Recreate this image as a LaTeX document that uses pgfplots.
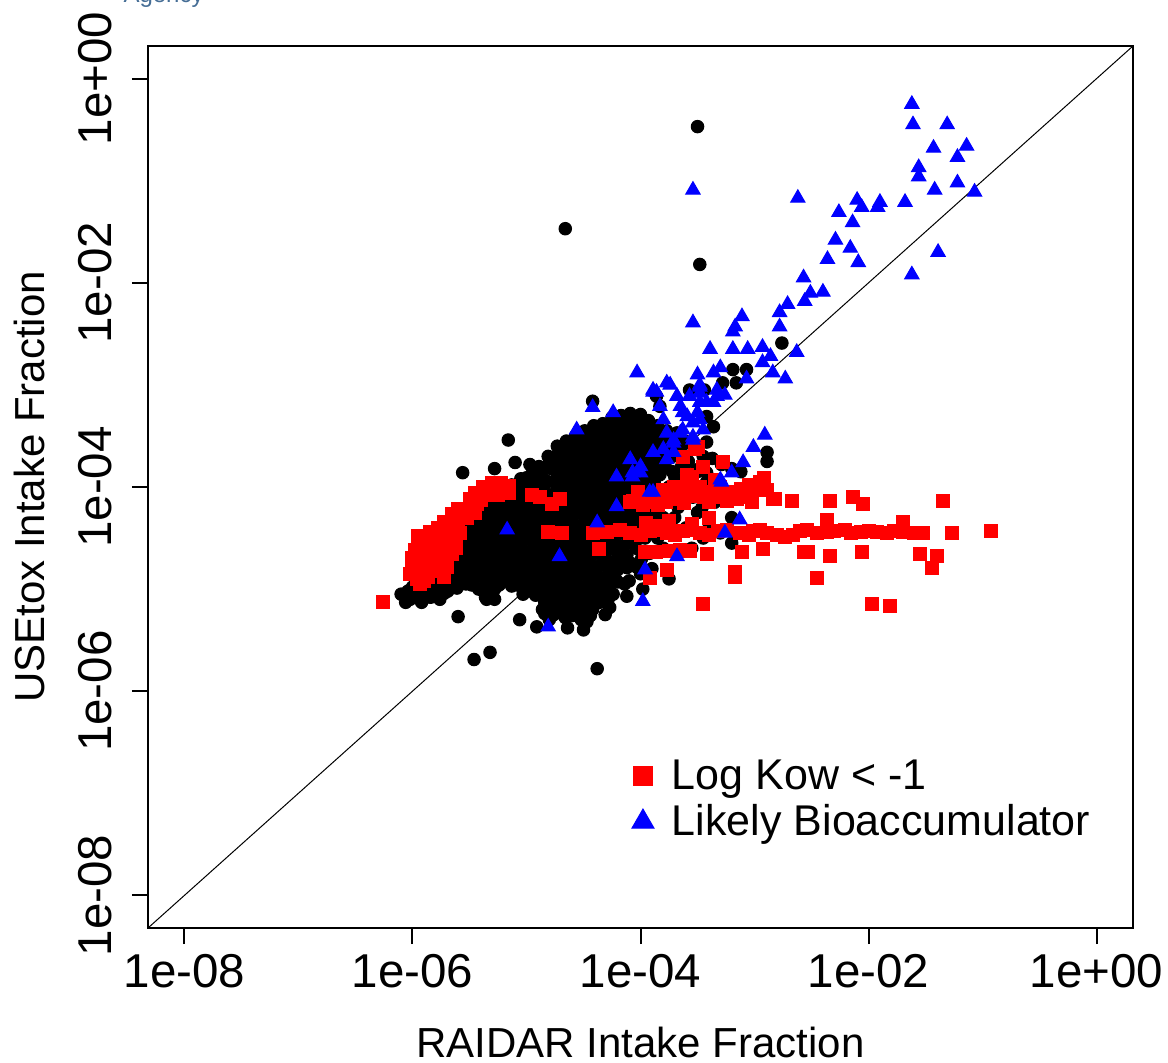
\documentclass[border=0pt]{standalone}
\usepackage{pgfplots}
\pgfplotsset{compat=1.18}
\usepackage{fontspec}
\setmainfont{Liberation Sans}
\definecolor{agency}{RGB}{70,110,150}
\begin{document}
\begin{tikzpicture}
\useasboundingbox (-59.2pt,-53.6pt) rectangle (408pt,371.2pt);
\begin{axis}[
 scale only axis, width=394pt, height=352.8pt,
 xmin=-8.32, xmax=0.32, ymin=-8.32, ymax=0.32,
 xtick={-8,-6,-4,-2,0}, ytick={-8,-6,-4,-2,0},
 xticklabels={1e-08,1e-06,1e-04,1e-02,1e+00},
 yticklabels={1e-08,1e-06,1e-04,1e-02,1e+00},
 tick pos=left, tick align=outside, major tick length=6.4pt,
 axis line style={line width=0.8pt},
 every tick/.style={black, line width=0.8pt},
 tick label style={font=\fontsize{19}{22}\selectfont},
 xticklabel style={anchor=base},
 yticklabel style={rotate=90, anchor=base},
 xticklabel shift=17.2pt, yticklabel shift=8pt,
 xlabel={RAIDAR Intake Fraction}, ylabel={USEtox Intake Fraction},
 every axis x label/.style={at={(axis description cs:0.5,-0.14626)}, anchor=base, font=\fontsize{16.8}{18}\selectfont, inner sep=0pt},
 every axis y label/.style={at={(axis description cs:-0.10457,0.5)}, anchor=base, rotate=90, font=\fontsize{16.8}{18}\selectfont, inner sep=0pt},
 legend style={draw=none, fill=none, inner sep=0pt, outer sep=0pt, at={(axis cs:-4.11,-6.67)}, anchor=north west, font=\fontsize{17.2}{19}\selectfont, row sep=4.6pt, nodes={inner sep=0pt}, /tikz/every odd column/.style={column sep=5.6pt}},
 legend cell align=left,
 legend image code/.code={\path[draw=none, fill=none] (-6pt,-3pt) rectangle (6pt,3pt); \draw[#1] plot coordinates {(0pt,0pt)};},
]
\addplot[black, line width=0.4pt, forget plot] coordinates {(-8.32,-8.32) (0.32,0.32)};
% black: other chemicals
\addplot[only marks, mark=*, mark size=2.5pt, black, forget plot] coordinates {
(-6.10,-5.05) (-6.06,-5.13) (-6.00,-4.98) (-6.02,-5.10) (-5.97,-5.04)
(-5.93,-4.93) (-5.90,-5.05) (-5.92,-5.13) (-5.85,-4.86) (-5.82,-4.97) (-5.84,-5.08)
(-5.77,-4.62) (-5.74,-4.76) (-5.78,-4.88) (-5.75,-5.00) (-5.76,-5.10)
(-5.69,-4.45) (-5.67,-4.56) (-5.70,-4.68) (-5.66,-4.80) (-5.68,-4.91) (-5.69,-5.02)
(-5.61,-4.40) (-5.58,-4.52) (-5.62,-4.65) (-5.59,-4.78) (-5.60,-4.90) (-5.61,-4.99)
(-5.53,-4.35) (-5.50,-4.48) (-5.54,-4.60) (-5.51,-4.72) (-5.52,-4.85) (-5.53,-4.95)
(-5.45,-4.25) (-5.42,-4.38) (-5.46,-4.50) (-5.43,-4.62) (-5.44,-4.75) (-5.45,-4.88) (-5.42,-5.00)
(-5.37,-4.20) (-5.34,-4.32) (-5.38,-4.45) (-5.35,-4.58) (-5.36,-4.70) (-5.37,-4.82) (-5.34,-4.95) (-5.36,-5.08)
(-5.29,-4.12) (-5.26,-4.25) (-5.30,-4.38) (-5.27,-4.50) (-5.28,-4.62) (-5.29,-4.75) (-5.26,-4.88) (-5.28,-5.00)
(-5.21,-4.05) (-5.18,-4.18) (-5.22,-4.30) (-5.19,-4.42) (-5.20,-4.55) (-5.21,-4.68) (-5.18,-4.80) (-5.20,-4.92)
(-5.13,-3.98) (-5.10,-4.10) (-5.14,-4.22) (-5.11,-4.35) (-5.12,-4.48) (-5.13,-4.60) (-5.10,-4.72) (-5.12,-4.85) (-5.13,-4.97)
(-5.05,-3.92) (-5.02,-4.05) (-5.06,-4.18) (-5.03,-4.30) (-5.04,-4.42) (-5.05,-4.55) (-5.02,-4.68) (-5.04,-4.80) (-5.05,-4.92) (-5.03,-5.05)
(-4.97,-3.78) (-4.94,-3.90) (-4.98,-4.02) (-4.95,-4.15) (-4.96,-4.28) (-4.97,-4.40) (-4.94,-4.52) (-4.96,-4.65) (-4.97,-4.78) (-4.95,-4.90) (-4.96,-5.02)
(-4.89,-3.80) (-4.86,-3.92) (-4.90,-4.05) (-4.87,-4.18) (-4.88,-4.30) (-4.89,-4.42) (-4.86,-4.55) (-4.88,-4.68) (-4.89,-4.80) (-4.87,-4.92) (-4.88,-5.05) (-4.86,-5.20)
(-4.81,-3.70) (-4.78,-3.82) (-4.82,-3.95) (-4.79,-4.08) (-4.80,-4.20) (-4.81,-4.32) (-4.78,-4.45) (-4.80,-4.58) (-4.81,-4.70) (-4.79,-4.82) (-4.80,-4.95) (-4.81,-5.08) (-4.78,-5.20) (-4.80,-5.30)
(-4.73,-3.60) (-4.70,-3.72) (-4.74,-3.85) (-4.71,-3.98) (-4.72,-4.10) (-4.73,-4.22) (-4.70,-4.35) (-4.72,-4.48) (-4.73,-4.60) (-4.71,-4.72) (-4.72,-4.85) (-4.73,-4.98) (-4.70,-5.10) (-4.72,-5.22)
(-4.65,-3.55) (-4.62,-3.68) (-4.66,-3.80) (-4.63,-3.92) (-4.64,-4.05) (-4.65,-4.18) (-4.62,-4.30) (-4.64,-4.42) (-4.65,-4.55) (-4.63,-4.68) (-4.64,-4.80) (-4.65,-4.92) (-4.62,-5.05) (-4.64,-5.18) (-4.66,-5.28)
(-4.57,-3.50) (-4.54,-3.62) (-4.58,-3.75) (-4.55,-3.88) (-4.56,-4.00) (-4.57,-4.12) (-4.54,-4.25) (-4.56,-4.38) (-4.57,-4.50) (-4.55,-4.62) (-4.56,-4.75) (-4.57,-4.88) (-4.54,-5.00) (-4.56,-5.12) (-4.58,-5.25)
(-4.49,-3.45) (-4.46,-3.58) (-4.50,-3.70) (-4.47,-3.82) (-4.48,-3.95) (-4.49,-4.08) (-4.46,-4.20) (-4.48,-4.32) (-4.49,-4.45) (-4.47,-4.58) (-4.48,-4.70) (-4.49,-4.82) (-4.46,-4.95) (-4.48,-5.10) (-4.50,-5.22) (-4.47,-5.32)
(-4.41,-3.40) (-4.38,-3.52) (-4.42,-3.65) (-4.39,-3.78) (-4.40,-3.90) (-4.41,-4.02) (-4.38,-4.15) (-4.40,-4.28) (-4.41,-4.40) (-4.39,-4.52) (-4.40,-4.65) (-4.41,-4.78) (-4.38,-4.90) (-4.40,-5.05) (-4.42,-5.20)
(-4.33,-3.38) (-4.30,-3.50) (-4.34,-3.62) (-4.31,-3.75) (-4.32,-3.88) (-4.33,-4.00) (-4.30,-4.12) (-4.32,-4.25) (-4.33,-4.38) (-4.31,-4.50) (-4.32,-4.62) (-4.33,-4.75) (-4.30,-4.88) (-4.32,-5.00) (-4.34,-5.12) (-4.31,-5.25)
(-4.25,-3.32) (-4.22,-3.45) (-4.26,-3.58) (-4.23,-3.70) (-4.24,-3.82) (-4.25,-3.95) (-4.22,-4.08) (-4.24,-4.20) (-4.25,-4.32) (-4.23,-4.45) (-4.24,-4.60) (-4.25,-4.75) (-4.22,-4.90) (-4.24,-5.05)
(-4.17,-3.30) (-4.14,-3.42) (-4.18,-3.55) (-4.15,-3.68) (-4.16,-3.80) (-4.17,-3.92) (-4.14,-4.05) (-4.16,-4.18) (-4.17,-4.30) (-4.15,-4.45) (-4.16,-4.60) (-4.17,-4.78) (-4.14,-4.95)
(-4.09,-3.28) (-4.06,-3.40) (-4.10,-3.52) (-4.07,-3.65) (-4.08,-3.78) (-4.09,-3.90) (-4.06,-4.05) (-4.08,-4.20) (-4.09,-4.35) (-4.07,-4.55) (-4.08,-4.75) (-4.10,-4.92)
(-4.01,-3.30) (-3.98,-3.42) (-4.02,-3.55) (-3.99,-3.68) (-4.00,-3.80) (-4.01,-3.95) (-3.98,-4.10) (-4.00,-4.30) (-4.01,-4.50) (-3.99,-4.70) (-4.00,-4.85)
(-3.93,-3.35) (-3.90,-3.50) (-3.94,-3.62) (-3.91,-3.75) (-3.92,-3.90) (-3.93,-4.10) (-3.90,-4.40) (-3.92,-4.65)
(-3.85,-3.40) (-3.82,-3.55) (-3.86,-3.70) (-3.83,-3.88) (-3.84,-4.15) (-3.85,-4.50)
(-3.77,-3.45) (-3.74,-3.60) (-3.78,-3.75) (-3.75,-4.00) (-3.76,-4.35)
(-3.69,-3.50) (-3.66,-3.68) (-3.70,-3.90) (-3.67,-4.20)
(-3.61,-3.55) (-3.58,-3.75) (-3.62,-4.05) (-3.53,-3.62) (-3.50,-3.85) (-3.54,-4.10)
(-3.45,-3.70) (-3.42,-3.95) (-3.46,-4.20) (-3.37,-3.72) (-3.34,-4.00) (-3.29,-3.78) (-3.26,-4.05)
(-3.20,-3.82) (-3.12,-3.85)
(-3.70,-4.30) (-3.60,-4.40) (-3.50,-4.25) (-3.40,-4.35) (-3.30,-4.45) (-3.20,-4.30) (-3.45,-4.50)
(-3.35,-4.15) (-3.55,-4.60) (-3.90,-4.80) (-3.80,-4.60) (-3.98,-5.00) (-3.75,-4.90) (-3.20,-4.55) (-3.15,-4.45)
(-6.04,-5.02) (-6.04,-5.09) (-5.88,-4.96) (-5.88,-5.08) (-5.80,-4.76) (-5.80,-4.88) (-5.80,-5.00)
(-5.72,-4.56) (-5.72,-4.68) (-5.72,-4.80) (-5.72,-4.92) (-5.72,-5.04)
(-5.64,-4.48) (-5.64,-4.60) (-5.64,-4.72) (-5.64,-4.84) (-5.64,-4.96)
(-5.56,-4.44) (-5.56,-4.56) (-5.56,-4.68) (-5.56,-4.80) (-5.56,-4.92)
(-5.48,-4.36) (-5.48,-4.48) (-5.48,-4.60) (-5.48,-4.72) (-5.48,-4.84) (-5.48,-4.96)
(-5.40,-4.28) (-5.40,-4.40) (-5.40,-4.52) (-5.40,-4.64) (-5.40,-4.76) (-5.40,-4.88) (-5.40,-5.00)
(-5.32,-4.22) (-5.32,-4.34) (-5.32,-4.46) (-5.32,-4.58) (-5.32,-4.70) (-5.32,-4.82) (-5.32,-4.94) (-5.32,-5.04)
(-5.24,-4.14) (-5.24,-4.26) (-5.24,-4.38) (-5.24,-4.50) (-5.24,-4.62) (-5.24,-4.74) (-5.24,-4.86) (-5.24,-4.96)
(-5.16,-4.08) (-5.16,-4.20) (-5.16,-4.32) (-5.16,-4.44) (-5.16,-4.56) (-5.16,-4.68) (-5.16,-4.80) (-5.16,-4.92)
(-5.08,-4.00) (-5.08,-4.12) (-5.08,-4.24) (-5.08,-4.36) (-5.08,-4.48) (-5.08,-4.60) (-5.08,-4.72) (-5.08,-4.84) (-5.08,-4.96)
(-5.00,-3.91) (-5.00,-4.03) (-5.00,-4.15) (-5.00,-4.27) (-5.00,-4.39) (-5.00,-4.51) (-5.00,-4.63) (-5.00,-4.75) (-5.00,-4.87) (-5.00,-4.98)
(-4.92,-3.86) (-4.92,-3.98) (-4.92,-4.10) (-4.92,-4.22) (-4.92,-4.34) (-4.92,-4.46) (-4.92,-4.58) (-4.92,-4.70) (-4.92,-4.82) (-4.92,-4.94) (-4.92,-5.06)
(-4.84,-3.81) (-4.84,-3.93) (-4.84,-4.05) (-4.84,-4.17) (-4.84,-4.29) (-4.84,-4.41) (-4.84,-4.53) (-4.84,-4.65) (-4.84,-4.77) (-4.84,-4.89) (-4.84,-5.01) (-4.84,-5.13) (-4.84,-5.24)
(-4.76,-3.71) (-4.76,-3.83) (-4.76,-3.95) (-4.76,-4.07) (-4.76,-4.19) (-4.76,-4.31) (-4.76,-4.43) (-4.76,-4.55) (-4.76,-4.67) (-4.76,-4.79) (-4.76,-4.91) (-4.76,-5.03) (-4.76,-5.15) (-4.76,-5.25)
(-4.68,-3.64) (-4.68,-3.76) (-4.68,-3.88) (-4.68,-4.00) (-4.68,-4.12) (-4.68,-4.24) (-4.68,-4.36) (-4.68,-4.48) (-4.68,-4.60) (-4.68,-4.72) (-4.68,-4.84) (-4.68,-4.96) (-4.68,-5.08) (-4.68,-5.20)
(-4.60,-3.58) (-4.60,-3.70) (-4.60,-3.82) (-4.60,-3.94) (-4.60,-4.06) (-4.60,-4.18) (-4.60,-4.30) (-4.60,-4.42) (-4.60,-4.54) (-4.60,-4.66) (-4.60,-4.78) (-4.60,-4.90) (-4.60,-5.02) (-4.60,-5.14) (-4.60,-5.26)
(-4.52,-3.54) (-4.52,-3.66) (-4.52,-3.78) (-4.52,-3.90) (-4.52,-4.02) (-4.52,-4.14) (-4.52,-4.26) (-4.52,-4.38) (-4.52,-4.50) (-4.52,-4.62) (-4.52,-4.74) (-4.52,-4.86) (-4.52,-4.98) (-4.52,-5.10) (-4.52,-5.22) (-4.52,-5.30)
(-4.44,-3.48) (-4.44,-3.60) (-4.44,-3.72) (-4.44,-3.84) (-4.44,-3.96) (-4.44,-4.08) (-4.44,-4.20) (-4.44,-4.32) (-4.44,-4.44) (-4.44,-4.56) (-4.44,-4.68) (-4.44,-4.80) (-4.44,-4.92) (-4.44,-5.04) (-4.44,-5.16) (-4.44,-5.26)
(-4.36,-3.45) (-4.36,-3.57) (-4.36,-3.69) (-4.36,-3.81) (-4.36,-3.93) (-4.36,-4.05) (-4.36,-4.17) (-4.36,-4.29) (-4.36,-4.41) (-4.36,-4.53) (-4.36,-4.65) (-4.36,-4.77) (-4.36,-4.89) (-4.36,-5.01) (-4.36,-5.13)
(-4.28,-3.41) (-4.28,-3.53) (-4.28,-3.65) (-4.28,-3.77) (-4.28,-3.89) (-4.28,-4.01) (-4.28,-4.13) (-4.28,-4.25) (-4.28,-4.37) (-4.28,-4.49) (-4.28,-4.61) (-4.28,-4.73) (-4.28,-4.85) (-4.28,-4.97) (-4.28,-5.09)
(-4.20,-3.37) (-4.20,-3.49) (-4.20,-3.61) (-4.20,-3.73) (-4.20,-3.85) (-4.20,-3.97) (-4.20,-4.09) (-4.20,-4.21) (-4.20,-4.33) (-4.20,-4.45) (-4.20,-4.57) (-4.20,-4.69) (-4.20,-4.81) (-4.20,-4.93)
(-4.12,-3.35) (-4.12,-3.47) (-4.12,-3.59) (-4.12,-3.71) (-4.12,-3.83) (-4.12,-3.95) (-4.12,-4.07) (-4.12,-4.19) (-4.12,-4.31) (-4.12,-4.43) (-4.12,-4.55) (-4.12,-4.67) (-4.12,-4.79)
(-4.04,-3.35) (-4.04,-3.47) (-4.04,-3.59) (-4.04,-3.71) (-4.04,-3.83) (-4.04,-3.95) (-4.04,-4.07) (-4.04,-4.19) (-4.04,-4.31) (-4.04,-4.43) (-4.04,-4.60) (-4.04,-4.78)
(-3.96,-3.38) (-3.96,-3.50) (-3.96,-3.62) (-3.96,-3.74) (-3.96,-3.86) (-3.96,-3.98) (-3.96,-4.15) (-3.96,-4.30) (-3.96,-4.50)
(-3.88,-3.44) (-3.88,-3.56) (-3.88,-3.68) (-3.88,-3.80) (-3.88,-3.95) (-3.88,-4.25)
(-3.80,-3.48) (-3.80,-3.62) (-3.80,-3.80) (-3.80,-4.05) (-3.80,-4.30)
(-3.72,-3.55) (-3.72,-3.70) (-3.72,-3.85) (-3.72,-4.10) (-3.64,-3.60) (-3.64,-3.80) (-3.64,-3.95)
(-3.50,-0.47) (-4.66,-1.47) (-3.48,-1.82) (-2.76,-2.59) (-3.19,-2.85) (-3.28,-2.98) (-3.57,-3.05)
(-2.89,-3.66) (-2.89,-3.75) (-5.46,-5.69) (-5.32,-5.62) (-4.38,-5.78) (-5.60,-5.27) (-5.35,-5.10)
(-5.28,-5.10) (-4.91,-5.37) (-4.64,-5.38) (-4.50,-5.40) (-5.06,-5.30) (-4.27,-5.18) (-4.12,-5.07)
(-5.56,-3.86) (-5.28,-3.82) (-5.16,-3.54) (-5.10,-3.76) (-4.95,-3.81) (-4.77,-3.73) (-4.42,-3.16)
(-4.00,-3.29) (-3.42,-3.56) (-3.42,-3.86) (-3.50,-3.83) (-3.86,-3.11) (-3.83,-3.21) (-3.42,-3.31)
(-3.36,-3.41) (-3.68,-3.47) (-3.77,-3.54) (-3.07,-2.85) (-3.16,-2.98) (-3.44,-3.05)
};
% red: Log Kow < -1
\addplot[only marks, mark=square*, mark size=2.6pt, red, forget plot] coordinates {
(-6.26,-5.13) (-6.00,-4.70) (-6.02,-4.85) (-5.96,-4.78) (-5.93,-4.62) (-5.90,-4.92) (-5.86,-4.55)
(-5.85,-4.70) (-5.82,-4.82) (-5.79,-4.48) (-5.78,-4.62) (-5.75,-4.75) (-5.72,-4.88) (-5.70,-4.40)
(-5.68,-4.52) (-5.65,-4.66) (-5.60,-4.32) (-5.58,-4.45) (-5.55,-4.25) (-5.48,-4.20) (-5.43,-4.17)
(-5.35,-4.08) (-5.30,-4.02) (-5.21,-4.03) (-5.15,-4.06) (-5.93,-4.95) (-4.95,-4.08)
(-5.98,-4.62) (-5.96,-4.90) (-5.92,-4.72) (-5.88,-4.62) (-5.88,-4.80) (-5.83,-4.50) (-5.82,-4.66)
(-5.76,-4.55) (-5.74,-4.42) (-5.72,-4.68) (-5.66,-4.36) (-5.62,-4.50) (-5.62,-4.60) (-5.52,-4.30)
(-5.45,-4.25) (-5.40,-4.13) (-5.25,-4.08) (-6.00,-4.80) (-5.86,-4.88) (-5.95,-4.48) (-5.90,-4.52)
(-5.85,-4.44) (-5.78,-4.40) (-5.72,-4.34) (-5.65,-4.26) (-5.60,-4.22) (-5.50,-4.12) (-5.45,-4.06)
(-5.38,-4.00) (-5.30,-3.96) (-5.22,-3.96) (-5.15,-3.99) (-5.70,-4.78) (-5.66,-4.58)
(-4.88,-4.10) (-4.71,-4.12) (-4.78,-4.17) (-4.69,-4.45) (-4.81,-4.44) (-4.42,-4.45) (-4.36,-4.61) (-4.29,-4.44)
(-4.18,-4.42) (-4.09,-4.45) (-4.00,-4.47) (-3.92,-4.43) (-3.86,-4.42) (-3.77,-4.45) (-3.70,-4.47)
(-3.63,-4.43) (-3.55,-4.42) (-3.48,-4.45) (-3.40,-4.47) (-3.32,-4.43) (-3.24,-4.42) (-3.13,-4.45)
(-3.05,-4.47) (-3.01,-4.43) (-2.95,-4.42) (-2.89,-4.45) (-2.80,-4.47) (-2.73,-4.49) (-2.66,-4.47)
(-2.60,-4.43) (-2.54,-4.42) (-2.45,-4.45) (-2.36,-4.44) (-2.30,-4.43) (-2.21,-4.42) (-2.15,-4.45)
(-2.07,-4.44) (-2.00,-4.43) (-1.93,-4.44) (-1.84,-4.45) (-1.78,-4.43) (-1.70,-4.44) (-1.60,-4.45)
(-1.52,-4.45) (-1.27,-4.45) (-0.93,-4.43)
(-3.95,-4.35) (-3.75,-4.33) (-3.55,-4.36) (-3.40,-4.30) (-2.36,-4.32) (-1.70,-4.34) (-3.85,-4.38)
(-3.96,-4.64) (-3.86,-4.64) (-3.57,-4.63) (-3.42,-4.66) (-3.11,-4.64) (-2.93,-4.61) (-2.57,-4.64)
(-2.53,-4.64) (-2.34,-4.68) (-2.06,-4.64) (-1.55,-4.66) (-1.40,-4.68) (-1.44,-4.79) (-3.75,-4.63) (-3.65,-4.62)
(-3.17,-4.83) (-3.17,-4.88) (-2.45,-4.89) (-3.92,-4.89) (-3.77,-4.81) (-3.45,-5.15) (-1.97,-5.15) (-1.81,-5.17)
(-3.71,-4.00) (-3.57,-3.96) (-3.48,-4.00) (-3.80,-4.03) (-3.71,-4.12) (-3.57,-4.09) (-4.09,-4.15)
(-3.94,-4.15) (-3.21,-4.05) (-3.15,-4.12) (-4.07,-4.14) (-3.19,-4.09) (-3.07,-4.10) (-3.24,-4.14)
(-3.50,-3.61) (-3.63,-3.71) (-3.52,-3.63) (-3.59,-3.88) (-3.28,-3.76) (-2.92,-3.91) (-2.89,-4.03)
(-2.84,-4.12) (-2.97,-4.03) (-2.82,-4.12) (-2.67,-4.14) (-2.34,-4.14) (-2.14,-4.10) (-2.05,-4.17)
(-1.35,-4.14) (-3.63,-4.08) (-3.40,-4.15) (-3.85,-4.18) (-3.30,-4.00)
(-4.02,-4.05) (-3.98,-4.18) (-3.88,-4.08) (-3.78,-4.15) (-3.66,-4.02) (-3.62,-4.16) (-3.52,-4.05)
(-3.44,-4.10) (-3.36,-4.05) (-3.28,-4.10) (-3.12,-4.02) (-3.02,-4.15) (-2.95,-3.95) (-3.05,-3.98)
(-3.35,-3.93) (-3.55,-3.90) (-3.45,-3.80)
};
% blue: likely bioaccumulator
\addplot[only marks, mark=triangle*, mark size=3.3pt, blue, forget plot] coordinates {
(-1.62,-0.25) (-1.61,-0.45) (-1.31,-0.45) (-1.43,-0.68) (-1.14,-0.66) (-1.22,-0.77) (-1.56,-0.87)
(-1.56,-0.96) (-1.22,-1.02) (-1.42,-1.09) (-1.07,-1.11) (-1.68,-1.21) (-2.10,-1.19) (-2.06,-1.26)
(-1.90,-1.21) (-1.92,-1.26) (-2.26,-1.31) (-2.14,-1.41) (-2.29,-1.58) (-2.16,-1.66) (-2.36,-1.77)
(-2.09,-1.80) (-1.39,-1.70) (-1.62,-1.92) (-2.57,-1.95) (-2.51,-2.10) (-2.40,-2.09) (-2.56,-2.18)
(-2.71,-2.21) (-2.78,-2.29) (-2.78,-2.43) (-3.11,-2.33) (-3.17,-2.43) (-3.19,-2.48) (-3.54,-2.39)
(-2.63,-2.68) (-3.39,-2.65) (-3.19,-2.65) (-3.06,-2.65) (-2.93,-2.63) (-2.86,-2.72) (-2.93,-2.78)
(-2.84,-2.88) (-2.73,-2.94) (-3.07,-2.94) (-4.03,-2.88) (-3.74,-3.00) (-3.89,-3.07) (-3.50,-2.90)
(-3.36,-2.88) (-3.30,-2.83) (-3.48,-3.00) (-3.54,-1.09) (-2.62,-1.17)
(-3.86,-3.07) (-3.68,-3.11) (-3.48,-3.08) (-3.33,-3.05) (-3.26,-3.10) (-3.65,-3.21) (-3.48,-3.17)
(-3.36,-3.17) (-3.80,-3.34) (-3.59,-3.31) (-3.48,-3.34) (-3.45,-3.44) (-3.65,-3.47) (-3.54,-3.51)
(-3.71,-3.57) (-3.80,-3.63) (-3.77,-3.73) (-3.89,-3.66) (-4.00,-3.80) (-4.07,-3.86) (-2.91,-3.49)
(-3.01,-3.61) (-3.10,-3.76) (-3.20,-3.86) (-3.29,-3.95) (-3.13,-4.32) (-3.26,-4.45)
(-4.24,-3.27) (-4.42,-3.22) (-4.56,-3.44) (-4.09,-3.73) (-4.21,-3.90) (-4.07,-3.90) (-3.89,-4.05)
(-4.21,-4.19) (-4.38,-4.35) (-3.30,-3.93) (-4.71,-4.68) (-3.96,-4.81) (-3.68,-4.68) (-3.77,-3.47)
(-3.71,-3.54) (-3.63,-3.44) (-3.54,-3.37) (-3.63,-3.27) (-3.50,-3.27) (-3.42,-3.17) (-3.33,-3.11)
(-3.57,-3.11) (-3.83,-3.21) (-3.71,-3.66) (-3.54,-3.54) (-4.00,-3.86) (-5.17,-4.42) (-4.81,-5.37)
(-3.98,-5.12) (-3.92,-4.05) (-3.77,-2.98) (-3.89,-3.05) (-3.48,-3.02)
};
\addlegendimage{only marks, mark=square*, mark size=3.8pt, red}
\addlegendentry{Log Kow < -1}
\addlegendimage{only marks, mark=triangle*, mark size=5.1pt, blue}
\addlegendentry{Likely Bioaccumulator}
\end{axis}
\node[anchor=base west, text=agency, font=\fontsize{9.6}{10}\selectfont, inner sep=0pt] at (-10pt,370pt) {Agency};
\end{tikzpicture}
\end{document}
